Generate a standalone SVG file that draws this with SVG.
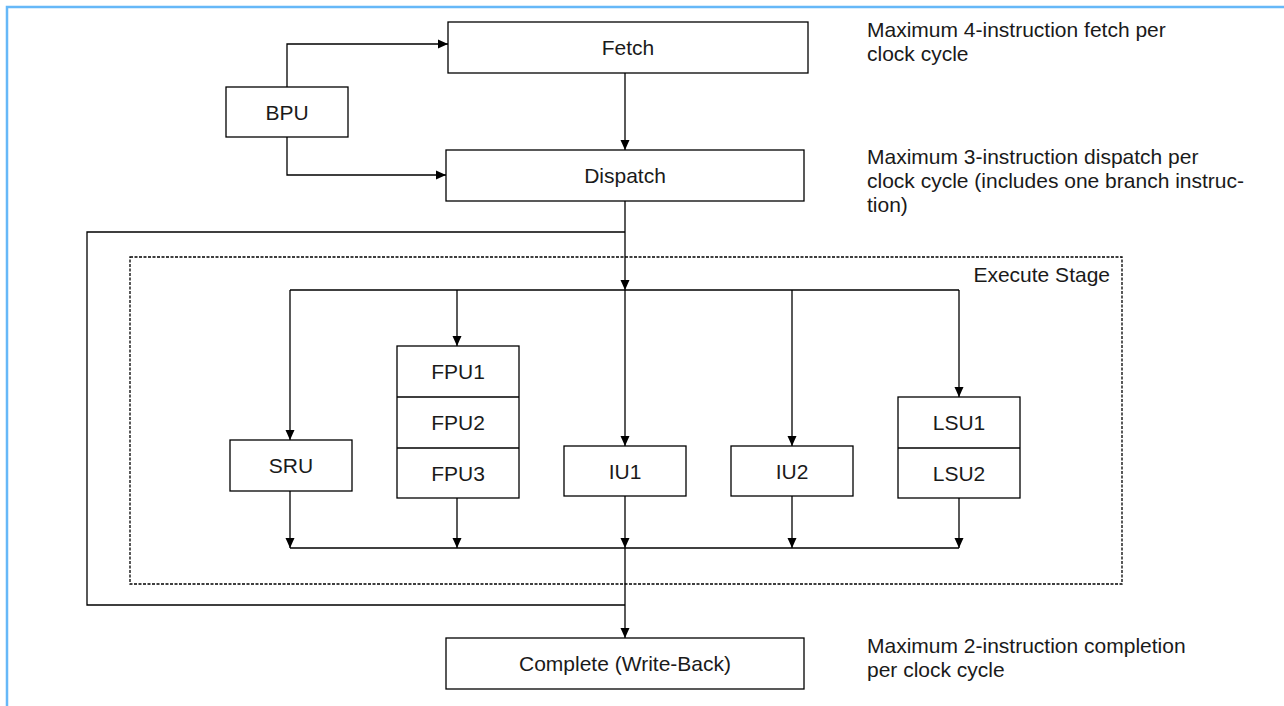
<svg xmlns="http://www.w3.org/2000/svg" width="1284" height="706" viewBox="0 0 1284 706">
<style>
  .box { fill: #ffffff; stroke: #000000; stroke-width: 1.3; }
  .div { stroke: #000000; stroke-width: 1.3; fill: none; }
  .lbl { font-family: "Liberation Sans", Arial, sans-serif; font-size: 21px; fill: #1a1a1a; text-anchor: middle; }
  .note { font-family: "Liberation Sans", Arial, sans-serif; font-size: 21px; fill: #1a1a1a; }
  .conn path { fill: none; stroke: #000000; stroke-width: 1.3; }
  .arr { marker-end: url(#ah); }
  .stage { fill: none; stroke: #000000; stroke-width: 1.3; stroke-dasharray: 3 1.5; }
  .frame { fill: none; stroke: #66b8f8; stroke-width: 2.5; }
</style>
<defs>
  <marker id="ah" markerUnits="userSpaceOnUse" markerWidth="10" markerHeight="10" viewBox="0 0 10 10" refX="10" refY="5" orient="auto">
    <path d="M0,0.5 L10,5 L0,9.5 z" fill="#000000"/>
  </marker>
</defs>
<rect width="1284" height="706" fill="#ffffff"/>
<path class="frame" d="M7,706 V7 H1284"/>

<g id="execute-stage">
  <rect class="stage" x="130" y="257" width="992" height="327"/>
  <text class="note" x="1110" y="282" text-anchor="end">Execute Stage</text>
</g>

<g id="connectors" class="conn">
  <path class="arr" d="M287,87 V44 H448"/>
  <path class="arr" d="M287,137 V175 H446"/>
  <path class="arr" d="M625,73 V150"/>
  <path class="arr" d="M625,201 V290"/>
  <path d="M625,232 H87 V605 H625"/>
  <path d="M290,290 H959"/>
  <path class="arr" d="M290,290 V440"/>
  <path class="arr" d="M457,290 V346"/>
  <path class="arr" d="M625,290 V446"/>
  <path class="arr" d="M792,290 V446"/>
  <path class="arr" d="M959,290 V397"/>
  <path class="arr" d="M290,491 V548"/>
  <path class="arr" d="M457,498 V548"/>
  <path class="arr" d="M625,496 V548"/>
  <path class="arr" d="M792,496 V548"/>
  <path class="arr" d="M959,498 V548"/>
  <path d="M290,548 H959"/>
  <path class="arr" d="M625,548 V638"/>
</g>

<g id="bpu">
  <rect class="box" x="226" y="87" width="122" height="50"/>
  <text class="lbl" x="287" y="119.5">BPU</text>
</g>
<g id="fetch">
  <rect class="box" x="448" y="22" width="360" height="51"/>
  <text class="lbl" x="628" y="55">Fetch</text>
</g>
<g id="dispatch">
  <rect class="box" x="446" y="150" width="358" height="51"/>
  <text class="lbl" x="625" y="183">Dispatch</text>
</g>
<g id="sru">
  <rect class="box" x="230" y="440" width="122" height="51"/>
  <text class="lbl" x="291" y="473">SRU</text>
</g>
<g id="fpu">
  <rect class="box" x="397" y="346" width="122" height="152"/>
  <path class="div" d="M397,397 H519 M397,448 H519"/>
  <text class="lbl" x="458" y="379">FPU1</text>
  <text class="lbl" x="458" y="430">FPU2</text>
  <text class="lbl" x="458" y="481">FPU3</text>
</g>
<g id="iu1">
  <rect class="box" x="564" y="446" width="122" height="50"/>
  <text class="lbl" x="625" y="478.5">IU1</text>
</g>
<g id="iu2">
  <rect class="box" x="731" y="446" width="122" height="50"/>
  <text class="lbl" x="792" y="478.5">IU2</text>
</g>
<g id="lsu">
  <rect class="box" x="898" y="397" width="122" height="101"/>
  <path class="div" d="M898,448 H1020"/>
  <text class="lbl" x="959" y="430">LSU1</text>
  <text class="lbl" x="959" y="481">LSU2</text>
</g>
<g id="complete">
  <rect class="box" x="446" y="638" width="358" height="51"/>
  <text class="lbl" x="625" y="671">Complete (Write-Back)</text>
</g>

<g id="notes">
  <text class="note" x="867" y="37">Maximum 4-instruction fetch per</text>
  <text class="note" x="867" y="61">clock cycle</text>
  <text class="note" x="867" y="164">Maximum 3-instruction dispatch per</text>
  <text class="note" x="867" y="188">clock cycle (includes one branch instruc-</text>
  <text class="note" x="867" y="212">tion)</text>
  <text class="note" x="867" y="653">Maximum 2-instruction completion</text>
  <text class="note" x="867" y="677">per clock cycle</text>
</g>
</svg>
